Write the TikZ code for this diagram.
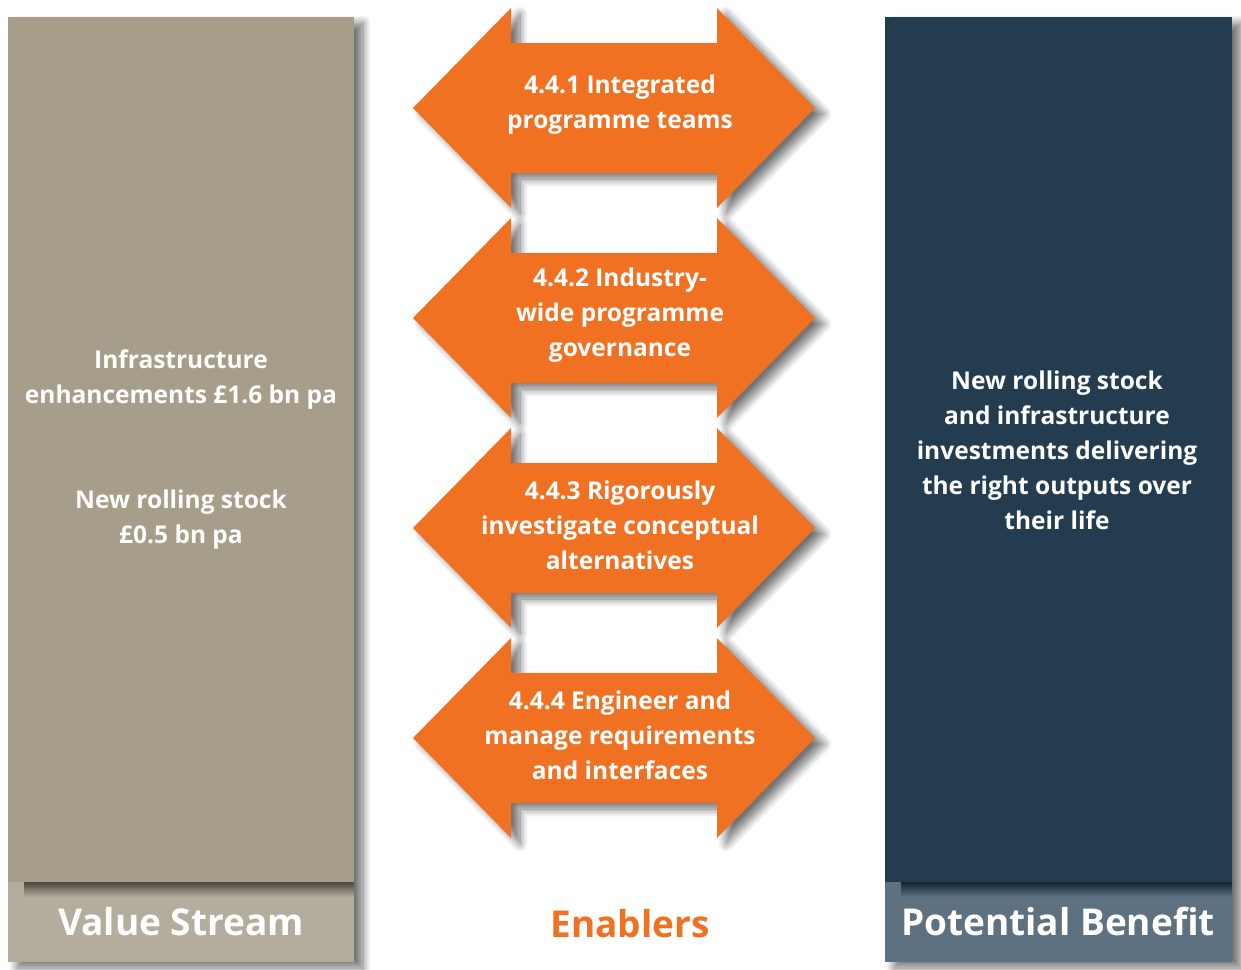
\documentclass[tikz,border=0pt]{standalone}
\usepackage{fontspec}
\setmainfont{Open Sans}
\usetikzlibrary{shadows.blur}
\definecolor{stone}{HTML}{A69D8A}
\definecolor{stonelight}{HTML}{B4AD9D}
\definecolor{navy}{HTML}{233C50}
\definecolor{navylight}{HTML}{5D7181}
\definecolor{enorange}{HTML}{F07122}

\begin{document}
\begin{tikzpicture}[x=1pt,y=-1pt,
  dropshade/.style={blur shadow={shadow xshift=9pt,shadow yshift=-6pt,shadow blur radius=8pt,shadow blur steps=10,shadow opacity=55}},
  enabler/.style={fill=enorange,dropshade},
  body/.style={text=white,align=center,font=\bfseries\fontsize{24.5}{35}\selectfont},
  foot/.style={text=white,font=\bfseries\fontsize{37}{40}\selectfont}]
\useasboundingbox (0,0) rectangle (1241,969);

\fill[stone,dropshade] (8,17) rectangle (354,962);
\fill[stone] (8,17) rectangle (354,882);
\fill[stonelight] (8,882) rectangle (354,962);
\shade[top color=stone!45!black,bottom color=stonelight] (24,882) rectangle (354,897);
\node[body] (infra) at (181,380) {Infrastructure\\enhancements £1.6 bn pa};
\node[body] (stock) at (181,520) {New rolling stock\\£0.5 bn pa};
\node[foot] (value) at (181,922) {Value Stream};

\fill[navy,dropshade] (885,17) rectangle (1232,962);
\fill[navy] (885,17) rectangle (1232,882);
\fill[navylight] (885,882) rectangle (1232,962);
\shade[top color=navy!60!black,bottom color=navylight] (901,882) rectangle (1232,897);
\node[body] (benefit) at (1057,450) {New rolling stock\\and infrastructure\\investments delivering\\the right outputs over\\their life};
\node[foot] (potential) at (1058,922) {Potential Benefit};

\foreach \cy/\txt [count=\i] in {108/{4.4.1 Integrated\\programme teams},
  318/{4.4.2 Industry-\\wide programme\\governance},
  528/{4.4.3 Rigorously\\investigate conceptual\\alternatives},
  738/{4.4.4 Engineer and\\manage requirements\\and interfaces}}{
  \fill[enabler] (413,\cy) -- (511,\cy-100) -- (511,\cy-65) -- (717,\cy-65) -- (717,\cy-100)
    -- (815,\cy) -- (717,\cy+100) -- (717,\cy+65) -- (511,\cy+65) -- (511,\cy+100) -- cycle;
  \node[body] (en\i) at (620,\cy-3) {\txt};
}
\node[foot,text=enorange] (enablers) at (630,924) {Enablers};
\end{tikzpicture}
\end{document}
